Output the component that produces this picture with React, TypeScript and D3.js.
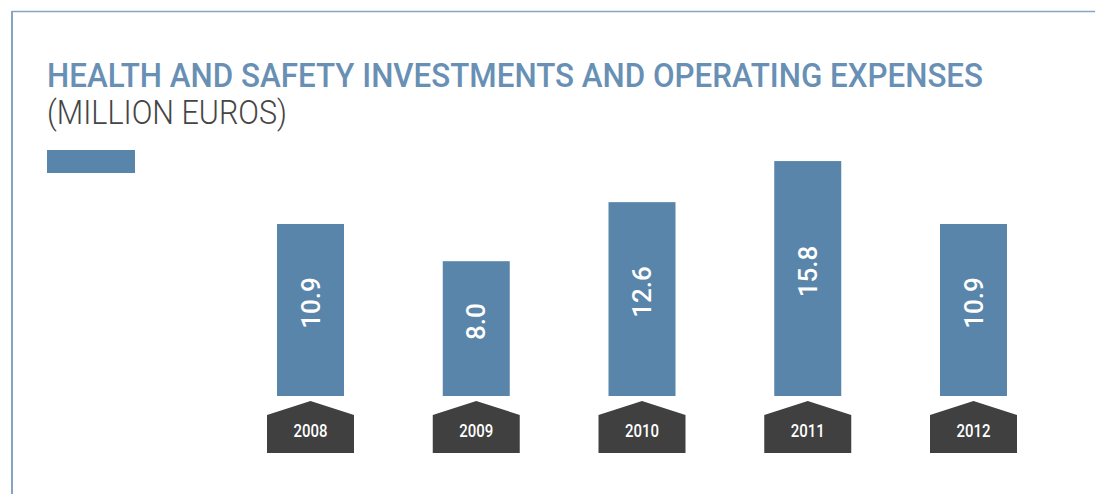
import React from "react";
import * as d3 from "d3";

const years = ["2008", "2009", "2010", "2011", "2012"];
const values = [10.9, 8.0, 12.6, 15.8, 10.9];
const valueLabels = ["10.9", "8.0", "12.6", "15.8", "10.9"];
const titleLine1 = "HEALTH AND SAFETY INVESTMENTS AND OPERATING EXPENSES";
const titleLine2 = "(MILLION EUROS)";

const W = 1095;
const H = 494;
const BAR_COLOR = "#5985aa";
const TITLE_COLOR = "#6890b4";
const BORDER_COLOR = "#86a5c0";
const BOX_COLOR = "#404040";

export default function App() {
  const x = d3.scalePoint<string>().domain(years).range([310.5, 973.5]);
  const y = d3.scaleLinear().domain([-2.5, 16]).range([396, 158.5]);
  const barW = 67;
  const boxW = 87;
  const boxPeak = 401;
  const boxShoulder = 415;
  const boxBottom = 453;

  return (
    <svg
      width={W}
      height={H}
      style={{ position: "absolute", left: 0, top: 0, background: "#fff" }}
    >
      {/* frame */}
      <line x1={12} y1={11.5} x2={W} y2={11.5} stroke={BORDER_COLOR} strokeWidth={1.5} />
      <line x1={12} y1={11} x2={12} y2={H} stroke={BORDER_COLOR} strokeWidth={2} />

      {/* titles */}
      <text
        x={47}
        y={86.5}
        fontFamily="Roboto, sans-serif"
        fontWeight={500}
        fontSize={32.5}
        fill={TITLE_COLOR}
        textLength={936}
        lengthAdjust="spacingAndGlyphs"
      >
        {titleLine1}
      </text>
      <text
        x={47}
        y={123.5}
        fontFamily="Roboto, sans-serif"
        fontWeight={300}
        fontSize={32.5}
        fill="#454545"
        textLength={240}
        lengthAdjust="spacingAndGlyphs"
      >
        {titleLine2}
      </text>

      {/* legend swatch */}
      <rect x={47} y={150} width={88} height={23} fill={BAR_COLOR} />

      {/* bars */}
      {years.map((yr, i) => {
        const cx = x(yr)!;
        const top = y(values[i]);
        const bottom = y(-2.5);
        const mid = (top + bottom) / 2 - 7;
        return (
          <g key={yr}>
            <rect x={cx - barW / 2} y={top} width={barW} height={bottom - top} fill={BAR_COLOR} />
            <text
              transform={`translate(${cx},${mid}) rotate(-90)`}
              textAnchor="middle"
              dominantBaseline="central"
              fontFamily="Roboto, sans-serif"
              fontWeight={500}
              fontSize={26}
              fill="#ffffff"
            >
              {valueLabels[i]}
            </text>
            <path
              d={`M${cx - boxW / 2},${boxShoulder} L${cx},${boxPeak} L${cx + boxW / 2},${boxShoulder} L${cx + boxW / 2},${boxBottom} L${cx - boxW / 2},${boxBottom} Z`}
              fill={BOX_COLOR}
            />
            <text
              x={cx}
              y={437}
              textAnchor="middle"
              fontFamily="Roboto, sans-serif"
              fontWeight={500}
              fontSize={18}
              fill="#ffffff"
              textLength={34}
              lengthAdjust="spacingAndGlyphs"
            >
              {yr}
            </text>
          </g>
        );
      })}
    </svg>
  );
}
